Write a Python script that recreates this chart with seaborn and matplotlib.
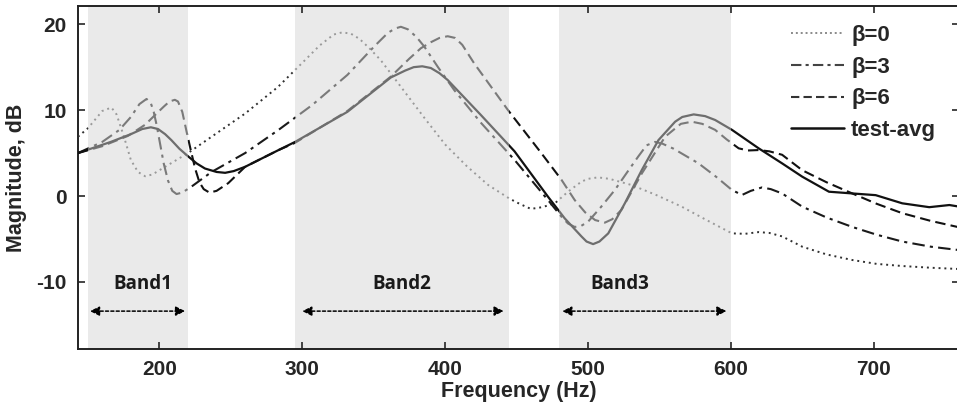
import numpy as np
import pandas as pd
import matplotlib
matplotlib.use("Agg")
import matplotlib.pyplot as plt
from matplotlib.path import Path
from matplotlib.lines import Line2D
import seaborn as sns

# ---------------- data ----------------
freq_b0 = [143, 150, 160, 166.4, 170, 175, 180, 185, 190, 195, 200, 210, 220, 236.5, 260, 283, 300,
           312, 322, 328, 334, 340, 347, 355, 370, 385, 400, 415, 430, 445, 452, 460, 468, 476.8,
           486, 495.4, 500, 507, 515, 530.5, 548, 565.6, 583, 600.8, 610, 619.5, 627, 635.9, 650,
           667, 685, 702, 720, 740, 760]
mag_b0 = [6.9, 7.9, 9.9, 10.3, 9.5, 7.0, 4.2, 2.8, 2.3, 2.5, 3.0, 4.0, 5.0, 6.9, 9.6, 12.7, 15.5,
          17.5, 18.8, 19.05, 18.9, 18.3, 17.2, 15.8, 12.5, 9.2, 6.0, 3.5, 1.3, -0.3, -0.9, -1.5, -1.3, -0.85,
          0.5, 1.67, 2.0, 2.17, 2.0, 1.28, 0.1, -1.24, -2.8, -4.35, -4.4, -4.2, -4.3, -4.7, -5.9,
          -6.8, -7.45, -7.9, -8.15, -8.35, -8.5]

freq_b3 = [143, 160, 172, 180, 186, 191, 194, 196, 198, 200, 203, 206, 209, 212, 216, 222.5, 236.5,
           260, 283.4, 307, 331.6, 350.3, 360, 365, 369, 374, 380, 385.4, 395, 406.5, 425.2, 448.6,
           472, 481.4, 486, 490.7, 495, 500, 509, 518.8, 528, 535.2, 541, 547, 552, 560, 577.4, 590,
           600.8, 607.8, 614, 621.8, 628, 635.9, 650, 667, 685, 702, 720, 740, 760]
mag_b3 = [5.0, 6.3, 7.7, 9.2, 10.7, 11.3, 10.8, 9.8, 8.3, 6.5, 3.8, 1.8, 0.6, 0.23, 0.4, 1.1, 2.8,
          5.0, 7.7, 10.6, 14.1, 17.4, 19.0, 19.5, 19.7, 19.4, 18.5, 17.4, 15.0, 12.3, 8.5, 4.2,
          -0.47, -2.4, -3.2, -3.6, -3.5, -3.0, -1.3, 0.7, 2.9, 4.6, 5.9, 6.3, 6.1, 5.5, 3.8, 2.2,
          0.7, 0.12, 0.6, 1.0, 0.8, 0.3, -1.24, -2.5, -3.6, -4.5, -5.3, -5.9, -6.3]

freq_b6 = [143, 160, 178, 190, 198, 203, 207, 210.8, 213, 216, 219, 222, 225, 228, 231, 235, 240,
           248.2, 260, 283.4, 295, 331.6, 362, 375, 383, 390, 396, 401.8, 407, 412, 420.5, 444,
           467.3, 481.4, 490.7, 498, 505, 511.8, 517, 523.5, 537.6, 554, 565, 572.7, 580, 589,
           597, 605.5, 612, 619.5, 627, 635.9, 650, 667, 685, 702, 720, 740, 760]
mag_b6 = [5.0, 5.8, 7.0, 8.3, 9.6, 10.4, 11.0, 11.2, 11.0, 9.8, 7.5, 5.3, 3.2, 1.6, 0.8, 0.4, 0.6,
          1.5, 3.4, 5.35, 6.2, 9.9, 13.9, 16.0, 17.2, 17.9, 18.4, 18.6, 18.4, 17.6, 15.4, 10.0,
          5.0, 1.9, -0.47, -1.9, -2.8, -3.1, -2.7, -1.6, 2.6, 6.9, 8.4, 8.65, 8.4, 7.7,
          6.6, 5.55, 5.3, 5.35, 5.2, 4.8, 3.0, 1.6, 0.3, -0.9, -2.0, -2.9, -3.65]

freq_avg = [143, 166, 180, 188, 194, 199, 204, 208.4, 214, 220.2, 226, 231.9, 240, 246, 252, 260,
            283.4, 295, 331.6, 362, 372, 378, 384, 390, 396, 401.8, 425.2, 448.6, 472, 483.7,
            495.4, 499, 503.6, 508, 514.2, 525.8, 537.6, 549.3, 561, 566, 574, 582, 589, 600.8,
            619.5, 635.9, 650, 668.7, 685, 701.4, 720, 738.9, 753, 760]
mag_avg = [5.0, 6.3, 7.2, 7.8, 8.0, 7.8, 7.2, 6.5, 5.5, 4.6, 3.8, 3.2, 2.8, 2.7, 2.9, 3.4,
           5.35, 6.3, 9.8, 13.8, 14.6, 15.0, 15.1, 14.9, 14.3, 13.5, 9.4, 5.2, -0.08, -2.6,
           -4.7, -5.3, -5.6, -5.3, -4.35, -0.85, 3.0, 6.5, 8.65, 9.2, 9.5, 9.3, 8.85, 7.7,
           5.55, 3.8, 2.25, 0.5, 0.3, 0.1, -0.85, -1.3, -1.05, -1.24]

series_labels = ["\u03b2=0", "\u03b2=3", "\u03b2=6", "test-avg"]
band_names = ["Band1", "Band2", "Band3"]
band_edges = [(150, 220), (295, 445), (480, 600)]
x_ticks = [200, 300, 400, 500, 600, 700]
y_ticks = [-10, 0, 10, 20]

# ---------------- style ----------------
sns.set_style("ticks")
plt.rcParams["font.family"] = ["Liberation Sans", "DejaVu Sans"]
plt.rcParams["font.weight"] = "bold"
plt.rcParams["axes.unicode_minus"] = False

fig = plt.figure(figsize=(9.57, 4.11), dpi=100)
ax = fig.add_axes([0.0815, 0.150, 0.921, 0.835])

XMIN, XMAX = 143, 760
YMIN, YMAX = -17.85, 22.1

band_color = "#eaeaea"
for (a, b) in band_edges:
    ax.axvspan(a, b, color=band_color, lw=0, zorder=0)

def rects_path(spans):
    paths = []
    for a, b in spans:
        paths.append(Path([(a, -100), (b, -100), (b, 100), (a, 100), (a, -100)],
                          [Path.MOVETO, Path.LINETO, Path.LINETO, Path.LINETO, Path.CLOSEPOLY]))
    return Path.make_compound_path(*paths)

outside = [(0, 150), (220, 295), (445, 480), (600, 1000)]
clip_in = rects_path(band_edges)
clip_out = rects_path(outside)

styles = [
    dict(ls=(0, (1, 2)), lw=1.4, dark="#303030", light="#9a9a9a"),
    dict(ls=(0, (6, 2.5, 1.5, 2.5)), lw=1.5, dark="#1a1a1a", light="#7a7a7a"),
    dict(ls=(0, (5, 2.5)), lw=1.5, dark="#111111", light="#7a7a7a"),
    dict(ls="-", lw=1.6, dark="#111111", light="#6e6e6e"),
]
datasets = [(freq_b0, mag_b0), (freq_b3, mag_b3), (freq_b6, mag_b6), (freq_avg, mag_avg)]

for (fx, my), st in zip(datasets, styles):
    df = pd.DataFrame({"f": fx, "m": my})
    for col, clip in ((st["dark"], clip_out), (st["light"], clip_in)):
        sns.lineplot(data=df, x="f", y="m", ax=ax, color=col, lw=st["lw"],
                     estimator=None, sort=False, legend=False)
        ln = ax.lines[-1]
        ln.set_linestyle(st["ls"])
        ln.set_solid_joinstyle("round")
        ln.set_dash_joinstyle("round")
        ln.set_clip_path(clip, transform=ax.transData)
        ln.set_zorder(3)

# band annotations
label_x = [188.6, 369.7, 522]
arrow_spans = [(151.4, 218), (300, 441), (482, 597)]
for name, lx, (a, b) in zip(band_names, label_x, arrow_spans):
    ax.text(lx, -10.2, name, ha="center", va="center", fontsize=13.5,
            fontweight="bold", family=["Open Sans", "DejaVu Sans"], color="#1a1a1a")
    ax.annotate("", xy=(a, -13.4), xytext=(b, -13.4),
                arrowprops=dict(arrowstyle="<|-|>", color="black", lw=1.1,
                                linestyle=(0, (2, 1.5)), mutation_scale=14,
                                shrinkA=0, shrinkB=0))

ax.set_xlim(XMIN, XMAX)
ax.set_ylim(YMIN, YMAX)
ax.set_xticks(x_ticks)
ax.set_yticks(y_ticks)
ax.tick_params(direction="in", length=5, width=1.2, top=True, right=True,
               labelsize=15, pad=8)
for lab in ax.get_xticklabels() + ax.get_yticklabels():
    lab.set_fontweight("bold")
for s in ax.spines.values():
    s.set_linewidth(1.4)
    s.set_color("#222222")

ax.set_xlabel("Frequency (Hz)", fontsize=15.5, fontweight="bold", labelpad=1)
ax.set_ylabel("Magnitude, dB", fontsize=15.5, fontweight="bold", labelpad=7)

handles = [
    Line2D([], [], color="#8a8a8a", ls=(0, (1, 1.5)), lw=1.4),
    Line2D([], [], color="#444444", ls=(0, (5, 2, 1.5, 2)), lw=1.5),
    Line2D([], [], color="#333333", ls=(0, (4, 2)), lw=1.5),
    Line2D([], [], color="#111111", ls="-", lw=1.8),
]
leg = ax.legend(handles, series_labels, loc="upper right", frameon=False,
                fontsize=16, handlelength=2.4, handletextpad=0.3,
                labelspacing=0.48, borderaxespad=0.45, bbox_to_anchor=(0.995, 1.0))
for t in leg.get_texts():
    t.set_fontweight("bold")

fig.savefig("out.png", dpi=100)
